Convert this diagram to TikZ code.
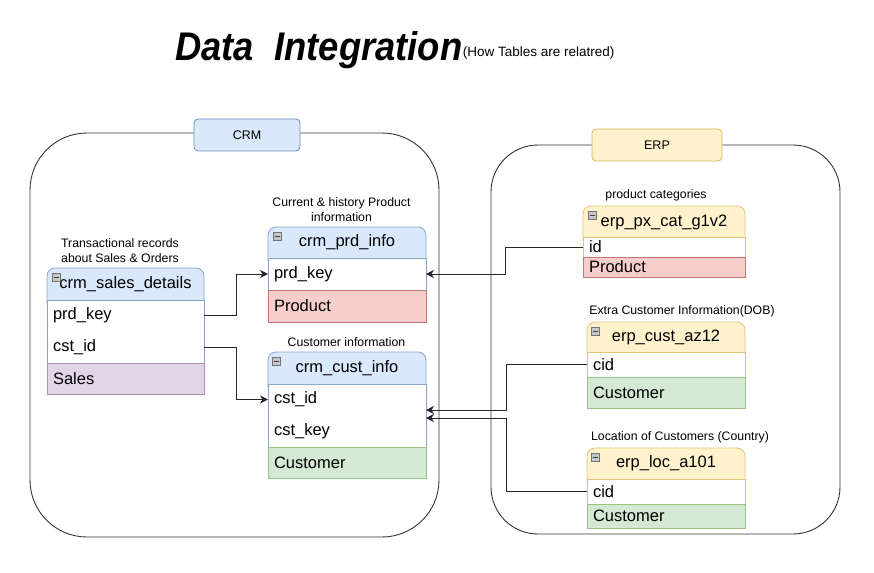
\documentclass[tikz,border=0pt]{standalone}
\usepackage{fontspec}
\setmainfont{Liberation Sans}
\usetikzlibrary{arrows.meta, calc}

\definecolor{crmfill}{HTML}{DAE8FC}
\definecolor{crmline}{HTML}{6C8EBF}
\definecolor{erpfill}{HTML}{FFF2CC}
\definecolor{erpline}{HTML}{D6B656}
\definecolor{prodfill}{HTML}{F8CECC}
\definecolor{prodline}{HTML}{B85450}
\definecolor{salesfill}{HTML}{E1D5E7}
\definecolor{salesline}{HTML}{9673A6}
\definecolor{custfill}{HTML}{D5E8D4}
\definecolor{custline}{HTML}{82B366}

\tikzset{
  container/.style={draw=black!80, line width=0.9pt, anchor=north west, inner sep=0pt, outer sep=0pt},
  grouptag/.style 2 args={draw=#2, fill=#1, line width=0.8pt, rounded corners=4pt, inner sep=0pt, font=\fontsize{12.5}{14}\selectfont},
  tblhead/.style 2 args={draw=#2!80, fill=#1, line width=0.8pt, rounded corners=8pt, anchor=north west, inner sep=0pt, outer sep=0pt},
  tblbody/.style={draw=#1!80, fill=white, line width=0.8pt, anchor=north west, inner sep=0pt, outer sep=0pt},
  tblrow/.style={anchor=north west, inner xsep=6pt, inner ysep=0pt, outer sep=0pt, align=left, font=\fontsize{16.5}{18}\selectfont},
  tblcell/.style 2 args={draw=#2!80, fill=#1, line width=0.8pt},
  tbltitle/.style={font=\fontsize{16.5}{18}\selectfont, inner sep=0pt},
  collapse/.style={draw=black!55, fill=black!22, anchor=north west, minimum size=8pt, inner sep=0pt, line width=0.6pt,
    path picture={\draw[black!75, line width=0.8pt] ([xshift=1.5pt]path picture bounding box.west) -- ([xshift=-1.5pt]path picture bounding box.east);}},
  note/.style={font=\fontsize{12.3}{15}\selectfont, align=center, inner sep=0pt},
  link/.style={draw=black!85, line width=1pt, -{Stealth[length=8pt, width=8pt, inset=2.5pt]}},
}

\begin{document}
\begin{tikzpicture}[x=1pt, y=-1pt]
  \useasboundingbox (0,0) rectangle (874,572);

  % Title
  \node[anchor=base west, inner sep=0pt, font=\fontsize{40}{40}\selectfont\bfseries\itshape] (title) at (175,61) {\scalebox{0.91}[1]{Data\ \ Integration}};
  \node[anchor=base west, inner sep=0pt, font=\fontsize{13.5}{14}\selectfont] (subtitle) at ([yshift=4pt]title.base east) {(How Tables are relatred)};

  % Source system groups
  \node[container, rounded corners=57pt, minimum width=409pt, minimum height=404pt] (crm) at (30,133) {};
  \node[container, rounded corners=47pt, minimum width=349pt, minimum height=389pt] (erp) at (491,145) {};
  \node[grouptag={crmfill}{crmline}, minimum width=106pt, minimum height=32pt] (crm-tag) at (247,135) {CRM};
  \node[grouptag={erpfill}{erpline}, minimum width=130pt, minimum height=32pt] (erp-tag) at (657,145) {ERP};

  % crm_sales_details
  \node[note] (sales-note) at (120,250.5) {Transactional records\\about Sales \& Orders};
  \node[tblhead={crmfill}{crmline}, minimum width=157pt, minimum height=42pt] (sales) at (47,268) {};
  \node[tblbody=crmline, minimum width=157pt, minimum height=63pt] (sales-body) at (47,300) {};
  \node[tbltitle] (sales-title) at (125.5,284) {crm\_sales\_details};
  \node[collapse] (sales-btn) at (52,273) {};
  \node[tblrow, text width=145pt, minimum height=31pt] (sales-prd) at (47,300) {prd\_key};
  \node[tblrow, text width=145pt, minimum height=32pt] (sales-cst) at (47,331) {cst\_id};
  \node[tblrow, tblcell={salesfill}{salesline}, text width=145pt, minimum height=31pt] (sales-sum) at (47,363) {Sales};

  % crm_prd_info
  \node[note] (prd-note) at (341.5,209.5) {Current \& history Product\\information};
  \node[tblhead={crmfill}{crmline}, minimum width=158pt, minimum height=41pt] (prd) at (268,227) {};
  \node[tblbody=crmline, minimum width=158pt, minimum height=32pt] (prd-body) at (268,258) {};
  \node[tbltitle] (prd-title) at (347,242.5) {crm\_prd\_info};
  \node[collapse] (prd-btn) at (273,232) {};
  \node[tblrow, text width=146pt, minimum height=32pt] (prd-key) at (268,258) {prd\_key};
  \node[tblrow, tblcell={prodfill}{prodline}, text width=146pt, minimum height=32pt] (prd-cat) at (268,290) {Product};

  % crm_cust_info
  \node[note] (cust-note) at (346.5,342) {Customer information};
  \node[tblhead={crmfill}{crmline}, minimum width=158pt, minimum height=42pt] (cust) at (268,352) {};
  \node[tblbody=crmline, minimum width=158pt, minimum height=63pt] (cust-body) at (268,384) {};
  \node[tbltitle] (cust-title) at (347,368) {crm\_cust\_info};
  \node[collapse] (cust-btn) at (272,357) {};
  \node[tblrow, text width=146pt, minimum height=31pt] (cust-id) at (268,384) {cst\_id};
  \node[tblrow, text width=146pt, minimum height=32pt] (cust-key) at (268,415) {cst\_key};
  \node[tblrow, tblcell={custfill}{custline}, text width=146pt, minimum height=31pt] (cust-grp) at (268,447) {Customer};

  % erp_px_cat_g1v2
  \node[note] (cat-note) at (656,195) {product categories};
  \node[tblhead={erpfill}{erpline}, minimum width=162pt, minimum height=41pt] (cat) at (583,206) {};
  \node[tblbody=erpline, minimum width=162pt, minimum height=20pt] (cat-body) at (583,237) {};
  \node[tbltitle] (cat-title) at (664,222) {erp\_px\_cat\_g1v2};
  \node[collapse] (cat-btn) at (588,211) {};
  \node[tblrow, text width=150pt, minimum height=20pt] (cat-id) at (583,237) {id};
  \node[tblrow, tblcell={prodfill}{prodline}, text width=150pt, minimum height=20pt] (cat-prd) at (583,257) {Product};

  % erp_cust_az12
  \node[note] (az-note) at (682,311) {Extra Customer Information(DOB)};
  \node[tblhead={erpfill}{erpline}, minimum width=158pt, minimum height=40pt] (az) at (587,322) {};
  \node[tblbody=erpline, minimum width=158pt, minimum height=25pt] (az-body) at (587,352) {};
  \node[tbltitle] (az-title) at (666,337) {erp\_cust\_az12};
  \node[collapse] (az-btn) at (591,327) {};
  \node[tblrow, text width=146pt, minimum height=25pt] (az-cid) at (587,352) {cid};
  \node[tblrow, tblcell={custfill}{custline}, text width=146pt, minimum height=31pt] (az-grp) at (587,377) {Customer};

  % erp_loc_a101
  \node[note] (loc-note) at (680,437) {Location of Customers (Country)};
  \node[tblhead={erpfill}{erpline}, minimum width=158pt, minimum height=41pt] (loc) at (587,448) {};
  \node[tblbody=erpline, minimum width=158pt, minimum height=25pt] (loc-body) at (587,479) {};
  \node[tbltitle] (loc-title) at (666,463.5) {erp\_loc\_a101};
  \node[collapse] (loc-btn) at (591,453) {};
  \node[tblrow, text width=146pt, minimum height=25pt] (loc-cid) at (587,479) {cid};
  \node[tblrow, tblcell={custfill}{custline}, text width=146pt, minimum height=24pt] (loc-grp) at (587,504) {Customer};

  % Relations
  \draw[link] (sales-prd.east) -- ++(32,0) |- (prd-key.west);
  \draw[link] (sales-cst.east) -- ++(32,0) |- (cust-id.west);
  \draw[link] (cat-id.west) -- ++(-78,0) |- (prd-key.east);
  \draw[link] (az-cid.west) -- ++(-81,0) |- ([yshift=5pt]cust-id.south east);
  \draw[link] (loc-cid.west) -- ++(-81,0) |- ([yshift=-3pt]cust-id.south east);
\end{tikzpicture}
\end{document}
